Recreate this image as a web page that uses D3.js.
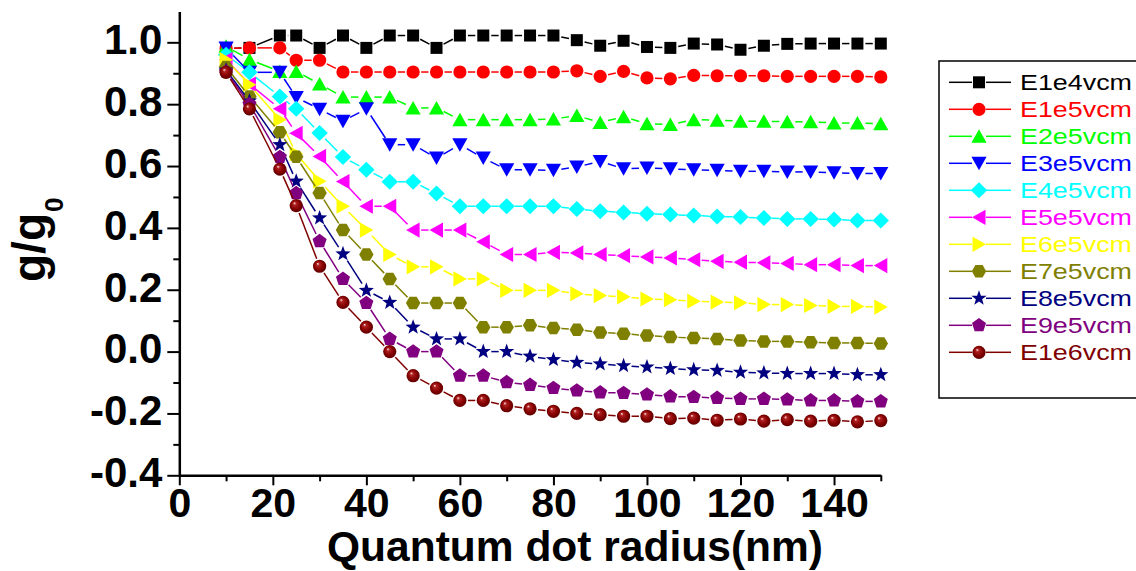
<!DOCTYPE html>
<html><head><meta charset="utf-8">
<script src="https://cdn.jsdelivr.net/npm/d3@7"></script>
<style>
html,body{margin:0;padding:0;background:#fff;}
svg{display:block;font-family:"Liberation Sans",Arial,sans-serif;}
</style></head><body>
<svg id="chart" width="1136" height="571"></svg>
<script>
// ---------- data ----------
const radius = [10, 15, 21.5, 25, 30, 35, 40, 45, 50, 55, 60, 65, 70, 75, 80, 85, 90, 95, 100, 105, 110, 115, 120, 125, 130, 135, 140, 145, 150];

const seriesNames = ["E1e4vcm","E1e5vcm","E2e5vcm","E3e5vcm","E4e5vcm","E5e5vcm","E6e5vcm","E7e5vcm","E8e5vcm","E9e5vcm","E1e6vcm"];
const seriesColors = ["#000000","#ff0000","#00ff00","#0000ff","#00ffff","#ff00ff","#ffff00","#808000","#000080","#800080","#800000"];
const seriesMarkers = ["square","circle","up","down","diamond","left","right","hexagon","star","pentagon","sphere"];

const E1e4 = [0.980,0.982,1.022,1.022,0.982,1.022,0.982,1.022,1.022,0.982,1.022,1.022,1.022,1.022,1.022,1.007,0.989,1.005,0.985,0.982,0.996,0.993,0.976,0.989,0.995,0.996,0.996,0.996,0.996];
const E1e5 = [0.980,0.982,0.982,0.942,0.942,0.904,0.904,0.904,0.904,0.904,0.904,0.904,0.904,0.904,0.904,0.908,0.890,0.906,0.885,0.882,0.893,0.892,0.892,0.892,0.890,0.890,0.890,0.890,0.888];
const E2e5 = [0.987,0.944,0.906,0.906,0.865,0.823,0.823,0.823,0.788,0.788,0.750,0.750,0.750,0.750,0.752,0.763,0.741,0.759,0.737,0.734,0.750,0.748,0.745,0.745,0.743,0.743,0.739,0.739,0.737];
const E3e5 = [0.982,0.903,0.903,0.822,0.784,0.745,0.785,0.669,0.669,0.626,0.669,0.626,0.588,0.588,0.586,0.597,0.615,0.591,0.594,0.591,0.588,0.586,0.583,0.583,0.581,0.581,0.578,0.576,0.576];
const E4e5 = [0.960,0.903,0.825,0.785,0.707,0.629,0.588,0.549,0.549,0.511,0.470,0.470,0.470,0.470,0.470,0.461,0.454,0.450,0.446,0.443,0.440,0.437,0.435,0.432,0.429,0.429,0.427,0.424,0.424];
const E5e5 = [0.944,0.865,0.785,0.706,0.631,0.550,0.470,0.470,0.393,0.393,0.393,0.355,0.314,0.314,0.321,0.319,0.314,0.310,0.306,0.303,0.297,0.292,0.289,0.287,0.285,0.281,0.281,0.278,0.278];
const E6e5 = [0.944,0.863,0.750,0.640,0.551,0.470,0.393,0.314,0.274,0.274,0.235,0.235,0.198,0.198,0.198,0.187,0.181,0.177,0.170,0.168,0.163,0.160,0.158,0.152,0.152,0.149,0.146,0.146,0.144];
const E7e5 = [0.920,0.825,0.709,0.630,0.513,0.393,0.314,0.235,0.157,0.157,0.157,0.079,0.079,0.085,0.076,0.071,0.062,0.058,0.052,0.047,0.044,0.041,0.036,0.033,0.033,0.030,0.028,0.028,0.026];
const E8e5 = [0.910,0.810,0.669,0.551,0.432,0.316,0.198,0.159,0.079,0.041,0.041,0.000,0.000,-0.015,-0.026,-0.035,-0.040,-0.046,-0.050,-0.055,-0.059,-0.061,-0.067,-0.069,-0.071,-0.071,-0.071,-0.075,-0.075];
const E9e5 = [0.905,0.800,0.629,0.512,0.357,0.235,0.157,0.041,0.000,0.000,-0.078,-0.078,-0.099,-0.108,-0.118,-0.126,-0.132,-0.134,-0.139,-0.145,-0.147,-0.150,-0.153,-0.153,-0.155,-0.158,-0.158,-0.161,-0.161];
const E1e6 = [0.903,0.785,0.590,0.472,0.276,0.159,0.079,0.000,-0.078,-0.118,-0.158,-0.158,-0.175,-0.185,-0.193,-0.200,-0.204,-0.209,-0.209,-0.217,-0.215,-0.222,-0.218,-0.225,-0.220,-0.225,-0.222,-0.227,-0.223];

const seriesValues = [E1e4,E1e5,E2e5,E3e5,E4e5,E5e5,E6e5,E7e5,E8e5,E9e5,E1e6];

const xMajorTicks = [0,20,40,60,80,100,120,140];
const xMinorTicks = [10,30,50,70,90,110,130,150];
const yMajorTicks = [-0.4,-0.2,0.0,0.2,0.4,0.6,0.8,1.0];
const yMinorTicks = [-0.3,-0.1,0.1,0.3,0.5,0.7,0.9];

const xTitle = "Quantum dot radius(nm)";
const yTitleMain = "g/g";
const yTitleSub = "0";

// ---------- layout ----------
const svg = d3.select("#chart");
const x = d3.scaleLinear().domain([0,150]).range([179.3,880.8]);
const y = d3.scaleLinear().domain([-0.4,1.1]).range([475.3,11.4]);

const defs = svg.append("defs");
const grad = defs.append("radialGradient").attr("id","sphereGrad")
  .attr("cx","0.5").attr("cy","0.5").attr("r","0.55").attr("fx","0.35").attr("fy","0.3");
grad.append("stop").attr("offset","0%").attr("stop-color","#ffe8e8");
grad.append("stop").attr("offset","22%").attr("stop-color","#b02020");
grad.append("stop").attr("offset","65%").attr("stop-color","#800000");
grad.append("stop").attr("offset","100%").attr("stop-color","#5a0000");

function polyPath(pts){ return "M" + pts.map(p => p[0].toFixed(2)+","+p[1].toFixed(2)).join("L") + "Z"; }
function regular(n, r, startAngle){
  const pts=[];
  for(let i=0;i<n;i++){ const a=startAngle + i*2*Math.PI/n; pts.push([r*Math.cos(a), r*Math.sin(a)]); }
  return pts;
}
function markerPath(type){
  switch(type){
    case "square": return "M-6,-6H6V6H-6Z";
    case "circle": case "sphere": return d3.symbol(d3.symbolCircle, Math.PI*6.6*6.6)();
    case "up": return "M0,-7L7.6,6.5L-7.6,6.5Z";
    case "down": return "M0,7L7.6,-6.5L-7.6,-6.5Z";
    case "diamond": return "M0,-8L8.2,0L0,8L-8.2,0Z";
    case "left": return "M-7,0L6.5,-7.6L6.5,7.6Z";
    case "right": return "M7,0L-6.5,-7.6L-6.5,7.6Z";
    case "hexagon": return polyPath(regular(6, 7.2, 0));
    case "pentagon": return polyPath(regular(5, 7.4, -Math.PI/2));
    case "star": {
      const pts=[];
      for(let i=0;i<10;i++){ const r = i%2===0 ? 8 : 3.3; const a=-Math.PI/2 + i*Math.PI/5; pts.push([r*Math.cos(a), r*Math.sin(a)]); }
      return polyPath(pts);
    }
  }
}
function drawMarker(g, type, color, cx, cy){
  g.append("path").attr("d", markerPath(type))
    .attr("transform", `translate(${cx},${cy})`)
    .attr("fill", type==="sphere" ? "url(#sphereGrad)" : color)
    .attr("stroke", "none");
}
function gapSegments(g, pts, color, gap, width){
  for(let i=0;i<pts.length-1;i++){
    const [x1,y1]=pts[i], [x2,y2]=pts[i+1];
    const dx=x2-x1, dy=y2-y1, L=Math.hypot(dx,dy);
    if(L <= 2*gap) continue;
    const ux=dx/L, uy=dy/L;
    g.append("line")
      .attr("x1", x1+ux*gap).attr("y1", y1+uy*gap)
      .attr("x2", x2-ux*gap).attr("y2", y2-uy*gap)
      .attr("stroke", color).attr("stroke-width", width);
  }
}

// ---------- axes ----------
const fmt = v => d3.format(".1f")(v).replace("\u2212","-");
const yAxis = svg.append("g").attr("transform",`translate(${x(0)},0)`)
  .call(d3.axisLeft(y).tickValues(yMajorTicks).tickFormat(fmt).tickSize(12).tickSizeOuter(0).tickPadding(5));
yAxis.select(".domain").attr("stroke-width",2.5);
yAxis.selectAll(".tick line").attr("stroke-width",2);
yAxis.selectAll(".tick text").attr("font-size",42).attr("font-weight","bold")
  .attr("font-family","'Liberation Sans',Arial,sans-serif").attr("dy","0.27em").attr("fill","#000");
svg.append("g").attr("transform",`translate(${x(0)},0)`)
  .call(d3.axisLeft(y).tickValues(yMinorTicks).tickFormat("").tickSize(6).tickSizeOuter(0))
  .call(g => { g.select(".domain").remove(); g.selectAll(".tick line").attr("stroke-width",2); });

const xAxis = svg.append("g").attr("transform",`translate(0,${y(-0.4)})`)
  .call(d3.axisBottom(x).tickValues(xMajorTicks).tickFormat(d3.format("d")).tickSize(10).tickSizeOuter(0).tickPadding(3));
xAxis.select(".domain").attr("stroke-width",2.5);
xAxis.selectAll(".tick line").attr("stroke-width",2);
xAxis.selectAll(".tick text").attr("font-size",41).attr("font-weight","bold")
  .attr("font-family","'Liberation Sans',Arial,sans-serif").attr("fill","#000");
svg.append("g").attr("transform",`translate(0,${y(-0.4)})`)
  .call(d3.axisBottom(x).tickValues(xMinorTicks).tickFormat("").tickSize(6).tickSizeOuter(0))
  .call(g => { g.select(".domain").remove(); g.selectAll(".tick line").attr("stroke-width",2); });

// axis titles
svg.append("text").attr("x",327).attr("y",561)
  .attr("font-size",43).attr("font-weight","bold")
  .attr("textLength",496).attr("lengthAdjust","spacingAndGlyphs")
  .text(xTitle);
const yt = svg.append("text").attr("transform","translate(45,282) rotate(-90)")
  .attr("font-size",46).attr("font-weight","bold");
yt.append("tspan").text(yTitleMain);
yt.append("tspan").attr("font-size",26).attr("dx",1).attr("dy",18).text(yTitleSub);

// ---------- series ----------
seriesValues.forEach((vals, si) => {
  const g = svg.append("g");
  const pts = vals.map((v,i) => [x(radius[i]), y(v)]);
  gapSegments(g, pts, seriesColors[si], 8, 1.5);
  pts.forEach(p => drawMarker(g, seriesMarkers[si], seriesColors[si], p[0], p[1]));
});

// ---------- legend ----------
const leg = svg.append("g");
leg.append("rect").attr("x",939).attr("y",61).attr("width",210).attr("height",337)
  .attr("fill","none").attr("stroke","#000").attr("stroke-width",1.5);
seriesNames.forEach((name, i) => {
  const cy = 82.3 + i*27.0;
  const c = seriesColors[i];
  leg.append("line").attr("x1",949).attr("x2",972).attr("y1",cy).attr("y2",cy).attr("stroke",c).attr("stroke-width",1.5);
  leg.append("line").attr("x1",986).attr("x2",1011).attr("y1",cy).attr("y2",cy).attr("stroke",c).attr("stroke-width",1.5);
  drawMarker(leg, seriesMarkers[i], c, 979, cy);
  leg.append("text").attr("x",1020).attr("y",cy+7.5)
    .attr("font-size",22).attr("fill",c)
    .attr("textLength",112).attr("lengthAdjust","spacingAndGlyphs")
    .text(name);
});
</script>
</body></html>
